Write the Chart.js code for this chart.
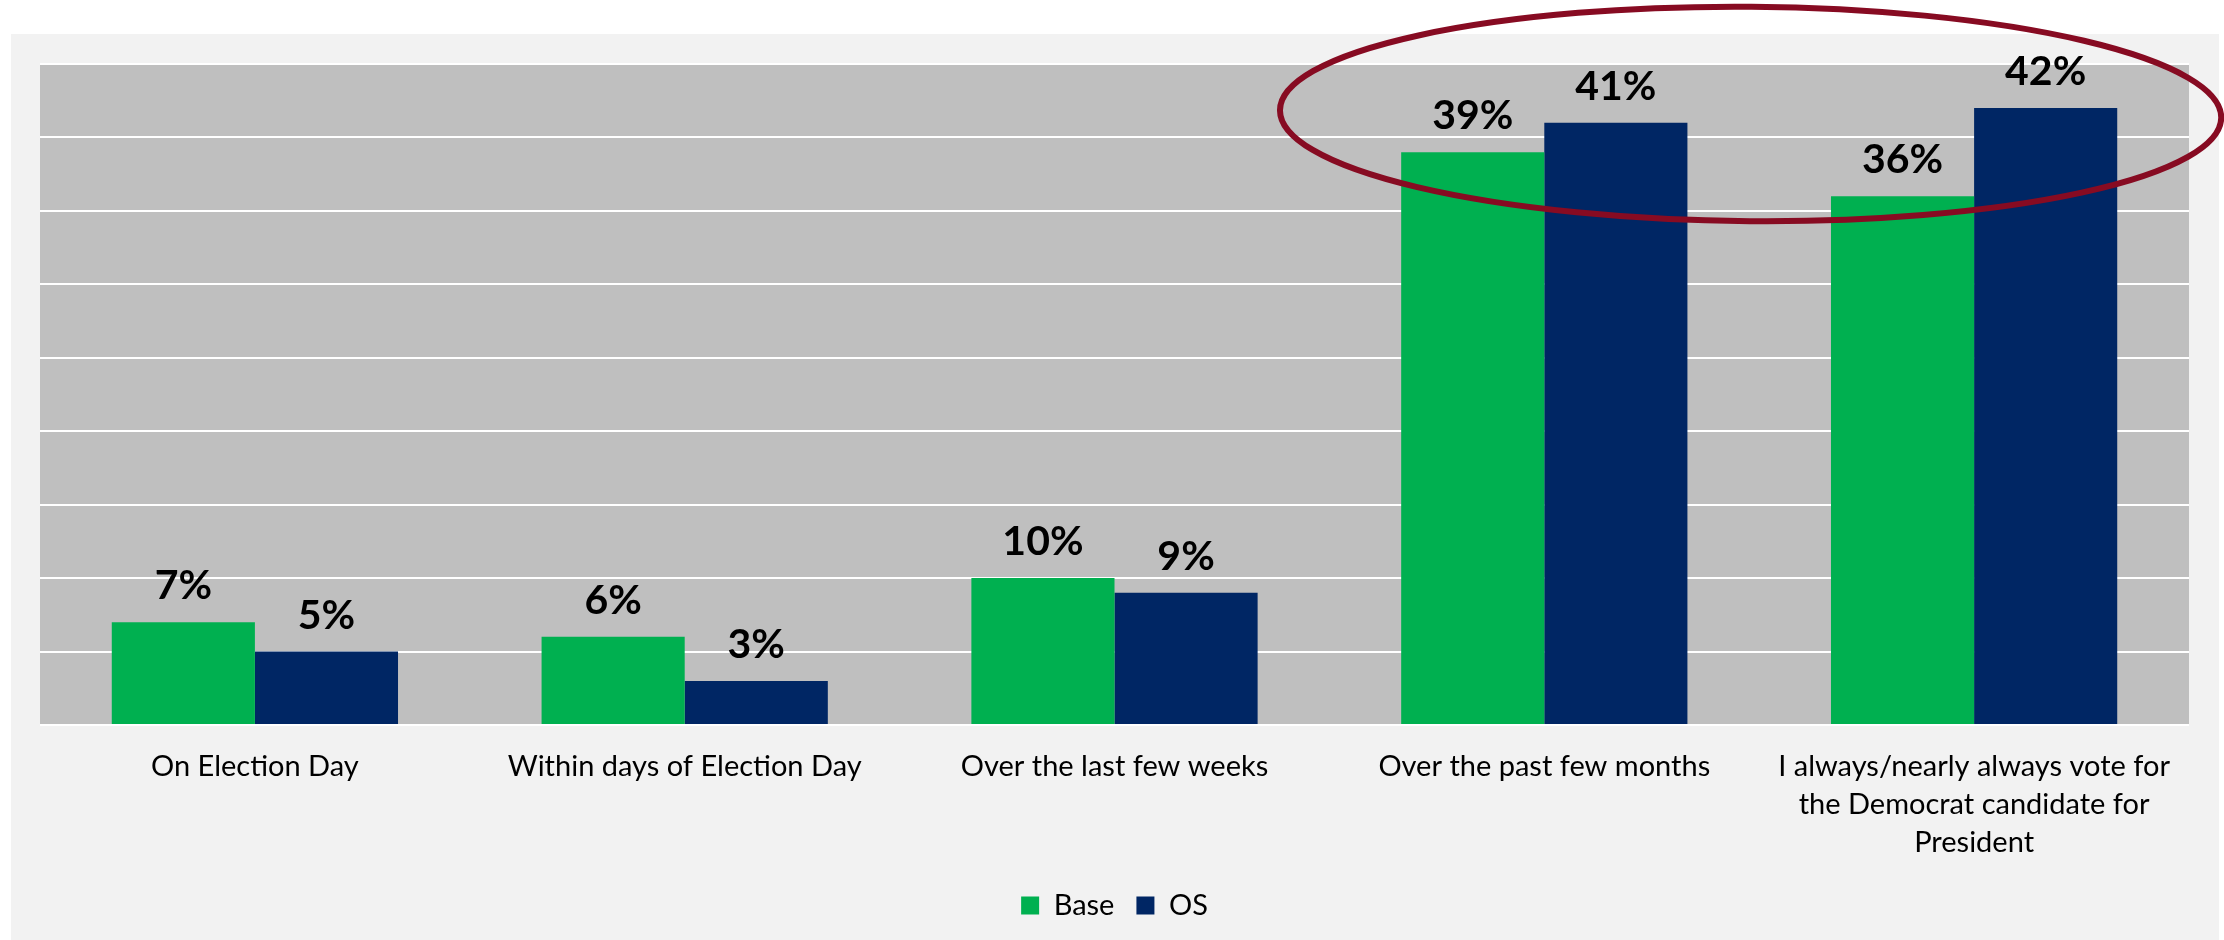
<!DOCTYPE html>
<html>
<head>
<meta charset="utf-8">
<script src="https://cdn.jsdelivr.net/npm/chart.js@4.4.1/dist/chart.umd.min.js"></script>
<style>
  html, body { margin: 0; padding: 0; background: #ffffff; }
  #wrap { position: relative; width: 2224px; height: 940px; }
</style>
</head>
<body>
<div id="wrap"><canvas id="chart" width="2224" height="940"></canvas></div>
<script>
// categories and values
const categories = [
  'On Election Day',
  'Within days of Election Day',
  'Over the last few weeks',
  'Over the past few months',
  ['I always/nearly always vote for', 'the Democrat candidate for', 'President']
];
const baseValues = [7, 6, 10, 39, 36];
const osValues = [5, 3, 9, 41, 42];
const seriesNames = ['Base', 'OS'];
const yMax = 45;
const yStep = 5;

const GREEN = '#00b050';
const NAVY = '#002664';
const FONT = 'Lato, "Open Sans", sans-serif';

// panel + plot background
const backgroundPlugin = {
  id: 'backgrounds',
  beforeDraw(chart) {
    const ctx = chart.ctx;
    const a = chart.chartArea;
    ctx.save();
    ctx.fillStyle = '#ffffff';
    ctx.fillRect(0, 0, chart.width, chart.height);
    ctx.fillStyle = '#f2f2f2';
    ctx.fillRect(11, 34, 2208, chart.height - 34);
    ctx.fillStyle = '#bfbfbf';
    ctx.fillRect(a.left, a.top, a.right - a.left, a.bottom - a.top);
    ctx.restore();
  }
};

// value labels above the bars
const valueLabels = {
  id: 'valueLabels',
  afterDatasetsDraw(chart) {
    const ctx = chart.ctx;
    ctx.save();
    ctx.font = 'bold 41px ' + FONT;
    ctx.fillStyle = '#000000';
    ctx.textAlign = 'center';
    ctx.textBaseline = 'alphabetic';
    chart.data.datasets.forEach((ds, di) => {
      chart.getDatasetMeta(di).data.forEach((bar, i) => {
        ctx.fillText(ds.data[i] + '%', bar.x, bar.y - 23);
      });
    });
    ctx.restore();
  }
};

// red ellipse highlighting the last two groups
const highlight = {
  id: 'highlight',
  afterDraw(chart) {
    const x = chart.scales.x;
    const y = chart.scales.y;
    const x3 = x.getPixelForValue(3);
    const x4 = x.getPixelForValue(4);
    const step = x4 - x3;
    const cx = x3 + step * 0.48;
    const cy = y.getPixelForValue(41.6);
    const rx = step * 1.095;
    const ry = y.getPixelForValue(34.3) - cy;
    const ctx = chart.ctx;
    ctx.save();
    ctx.strokeStyle = '#870b22';
    ctx.lineWidth = 6;
    ctx.beginPath();
    ctx.ellipse(cx, cy, rx, ry, 0.008, 0, Math.PI * 2);
    ctx.stroke();
    ctx.restore();
  }
};

new Chart(document.getElementById('chart'), {
  type: 'bar',
  data: {
    labels: categories,
    datasets: [
      { label: seriesNames[0], data: baseValues, backgroundColor: GREEN, borderWidth: 0 },
      { label: seriesNames[1], data: osValues, backgroundColor: NAVY, borderWidth: 0 }
    ]
  },
  options: {
    responsive: false,
    animation: false,
    devicePixelRatio: 1,
    layout: { padding: { left: 40, right: 35, top: 64, bottom: 10 } },
    datasets: { bar: { barPercentage: 1, categoryPercentage: 0.666 } },
    scales: {
      x: {
        grid: { display: false },
        border: { display: false },
        ticks: {
          color: '#000000',
          padding: 15,
          maxRotation: 0,
          font: { family: FONT, size: 29, lineHeight: 1.31 }
        },
        afterFit(scale) { scale.height = 144; }
      },
      y: {
        min: 0,
        max: yMax,
        ticks: { display: false, stepSize: yStep },
        grid: { color: '#ffffff', lineWidth: 2, drawTicks: false },
        border: { display: false },
        afterFit(scale) { scale.width = 0; }
      }
    },
    plugins: {
      legend: {
        position: 'bottom',
        labels: {
          color: '#000000',
          boxWidth: 18,
          boxHeight: 18,
          padding: 22,
          font: { family: FONT, size: 29 }
        }
      },
      tooltip: { enabled: false }
    }
  },
  plugins: [backgroundPlugin, valueLabels, highlight]
});
</script>
</body>
</html>
